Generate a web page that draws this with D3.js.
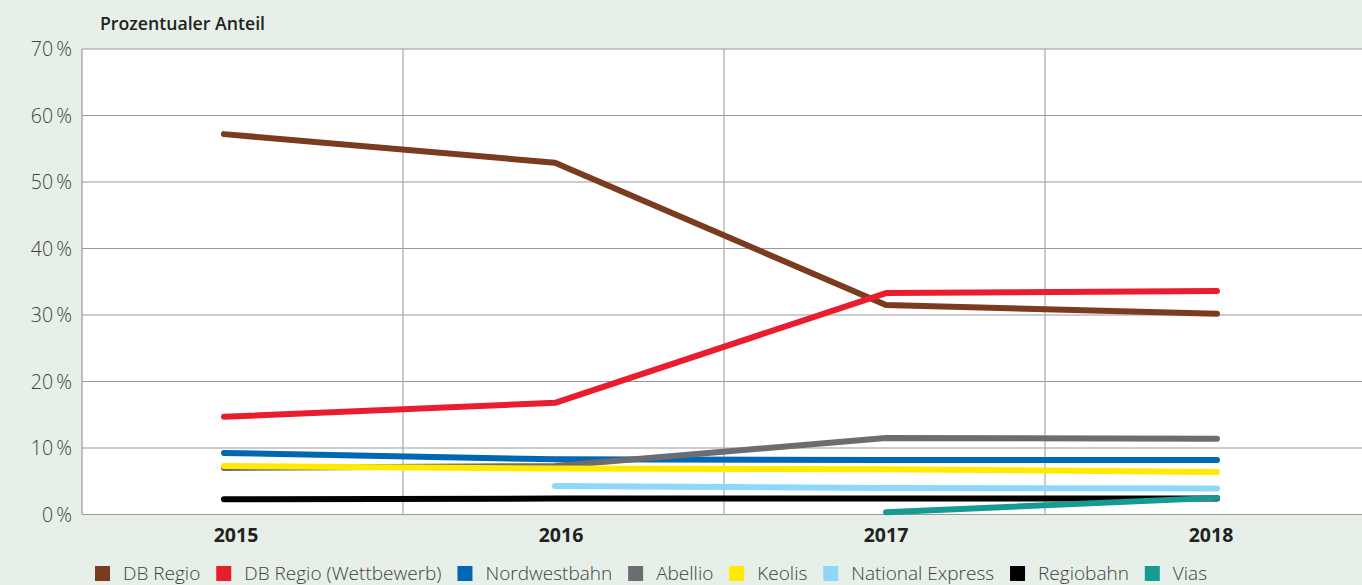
<!DOCTYPE html>
<html lang="de">
<head>
<meta charset="UTF-8">
<title>Prozentualer Anteil</title>
<script src="https://d3js.org/d3.v7.min.js"></script>
<style>
  body { margin: 0; background: #e6f0e8; }
  text { font-family: "Open Sans", sans-serif; }
</style>
</head>
<body>
<script>
    const width = 1362;
    const height = 585;

    // data (percent)
    const years = ["2015", "2016", "2017", "2018"];
    const yTicks = [0, 10, 20, 30, 40, 50, 60, 70];
    const seriesNames = ["DB Regio", "DB Regio (Wettbewerb)", "Nordwestbahn", "Abellio",
                         "Keolis", "National Express", "Regiobahn", "Vias"];
    const seriesColors = ["#7b3b1f", "#ea1d2f", "#0067b4", "#6b6d70",
                          "#ffea00", "#8fd7f6", "#000000", "#169a94"];
    const dbRegio      = [57.2, 52.9, 31.5, 30.2];
    const dbRegioWett  = [14.7, 16.8, 33.3, 33.6];
    const nordwestbahn = [9.25, 8.3, 8.2, 8.2];
    const abellio      = [7.0, 7.3, 11.5, 11.4];
    const keolis       = [7.3, 6.9, 6.8, 6.4];
    const natExpress   = [null, 4.3, 4.0, 3.9];
    const regiobahn    = [2.3, 2.4, 2.4, 2.4];
    const vias         = [null, null, 0.35, 2.5];
    const seriesValues = [dbRegio, dbRegioWett, nordwestbahn, abellio,
                          keolis, natExpress, regiobahn, vias];

    const plot = {left: 82, right: 1366, top: 49, bottom: 514.5};

    const svg = d3.select("body").append("svg")
            .attr("width", width).attr("height", height);

    const y = d3.scaleLinear().domain([0, 70]).range([plot.bottom, plot.top]);
    const xBand = d3.scaleBand().domain(years).range([plot.left, plot.right]);
    const xPoint = d3.scalePoint().domain(years).range([224, 1217]);
    const xLabel = d3.scalePoint().domain(years).range([236, 1211]);

    // plot background
    svg.append("rect")
            .attr("x", plot.left).attr("y", plot.top)
            .attr("width", plot.right - plot.left).attr("height", plot.bottom - plot.top)
            .style("fill", "#fff");

    // horizontal grid
    svg.append("g").selectAll("line")
            .data(yTicks)
            .join("line")
            .attr("x1", plot.left).attr("x2", plot.right)
            .attr("y1", d => y(d)).attr("y2", d => y(d))
            .style("stroke", "#9a9a9a")
            .style("stroke-width", 1.2);

    // vertical grid between the years
    svg.append("g").selectAll("line")
            .data(years.slice(1))
            .join("line")
            .attr("x1", d => xBand(d)).attr("x2", d => xBand(d))
            .attr("y1", plot.top).attr("y2", plot.bottom)
            .style("stroke", "#a8a8a8")
            .style("stroke-width", 1.2);

    svg.append("line")
            .attr("x1", plot.left).attr("x2", plot.left)
            .attr("y1", plot.top).attr("y2", plot.bottom)
            .style("stroke", "#9a9a9a")
            .style("stroke-width", 1.2);

    // y labels
    svg.append("g").selectAll("text")
            .data(yTicks)
            .join("text")
            .attr("x", 72)
            .attr("y", d => y(d))
            .attr("dy", "0.36em")
            .attr("text-anchor", "end")
            .style("font-size", "19.5px")
            .style("font-weight", 300)
            .style("fill", "#404040")
            .text(d => d + "\u2009%");

    // x labels
    svg.append("g").selectAll("text")
            .data(years)
            .join("text")
            .attr("x", d => xLabel(d))
            .attr("y", 542)
            .attr("text-anchor", "middle")
            .style("font-size", "19.5px")
            .style("font-weight", "bold")
            .style("fill", "#222")
            .text(d => d);

    // title
    svg.append("text")
            .attr("x", 100).attr("y", 30)
            .style("font-size", "17.7px")
            .style("font-weight", 600)
            .style("fill", "#222")
            .text("Prozentualer Anteil");

    // lines
    const line = d3.line()
            .defined(d => d.v !== null)
            .x(d => xPoint(d.year))
            .y(d => y(d.v));

    svg.append("g").selectAll("path")
            .data(seriesValues)
            .join("path")
            .attr("d", vals => line(vals.map((v, i) => ({year: years[i], v: v}))))
            .style("fill", "none")
            .style("stroke", (d, i) => seriesColors[i])
            .style("stroke-width", 6)
            .style("stroke-linecap", "round")
            .style("stroke-linejoin", "round");

    // legend, spread from x=95 to about x=1207
    const legend = svg.append("g").attr("transform", "translate(95,573)");
    const items = legend.selectAll("g")
            .data(seriesNames)
            .join("g");
    items.append("rect")
            .attr("x", 0).attr("y", -7)
            .attr("width", 15).attr("height", 15)
            .style("fill", (d, i) => seriesColors[i]);
    items.append("text")
            .attr("x", 28).attr("y", 0)
            .attr("dy", "0.36em")
            .style("font-size", "19px")
            .style("font-weight", 300)
            .style("fill", "#404040")
            .text(d => d);
    const widths = items.nodes().map(n => 28 + n.querySelector("text").getComputedTextLength());
    const gap = (1207 - 95 - d3.sum(widths)) / (widths.length - 1);
    let lx = 0;
    items.attr("transform", (d, i) => {
        const t = "translate(" + lx + ",0)";
        lx += widths[i] + gap;
        return t;
    });
</script>
</body>
</html>
